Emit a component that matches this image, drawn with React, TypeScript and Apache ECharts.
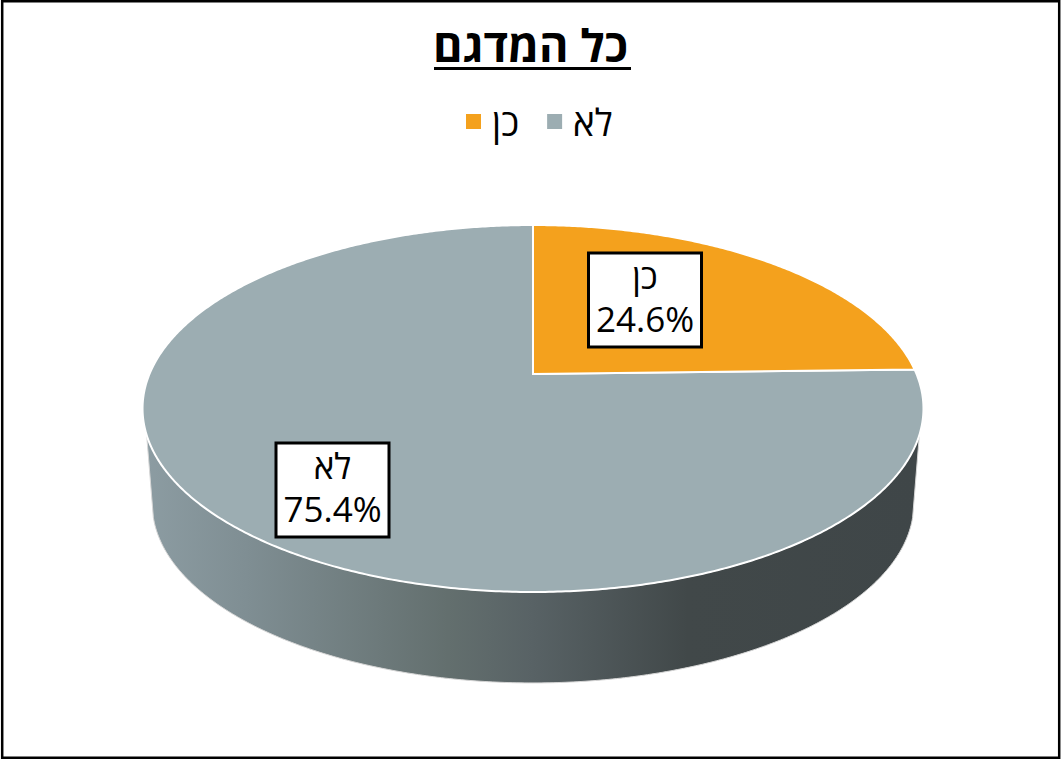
import React, { useEffect, useRef } from "react";
import * as echarts from "echarts";

const TITLE = "כל המדגם";
const CATEGORIES = ["כן", "לא"];
const VALUES = [24.6, 75.4];
const COLORS = ["#F4A11D", "#9CADB2"];
const FONT = '"Open Sans", sans-serif';

// Perspective projection of the pie's disc
const CX = 533;
const K = 0.188;
const RX = 383.5;
const RY = 177;
const TOP_Y = 374;
const BOTTOM_Y = 470.4;
const BOTTOM_SCALE = 0.975;
const VISIBLE_SIDE_FROM = 108.9;
const VISIBLE_SIDE_TO = 251.1;
const BOTTOM_SIDE_FROM = 105;
const BOTTOM_SIDE_TO = 255;
const LABEL_BOXES = [
  { x: 588.5, y: 253, width: 113, height: 94 },
  { x: 276, y: 443, width: 113, height: 94 },
];

function project(deg: number, y0: number, scale: number): number[] {
  const t = (deg * Math.PI) / 180;
  const w = 1 + K * Math.cos(t);
  return [CX + (scale * RX * Math.sin(t)) / w, y0 - (scale * RY * Math.cos(t)) / w];
}

function arc(from: number, to: number, y0: number, scale: number): number[][] {
  const pts: number[][] = [];
  const n = Math.max(2, Math.ceil(Math.abs(to - from) * 2));
  for (let i = 0; i <= n; i++) pts.push(project(from + ((to - from) * i) / n, y0, scale));
  return pts;
}

function makeRenderItem(index: number) {
  return (_params: any, api: any) => {
    const total = VALUES.reduce((a, b) => a + b, 0);
    const before = VALUES.slice(0, index).reduce((a, b) => a + b, 0);
    const value = api.value(0);
    const from = (before / total) * 360;
    const to = ((before + value) / total) * 360;
    const children: any[] = [];

    const sFrom = Math.max(from, VISIBLE_SIDE_FROM);
    const sTo = Math.min(to, VISIBLE_SIDE_TO);
    if (sTo > sFrom) {
      const upper = arc(sFrom, sTo, TOP_Y, 1);
      const lower = arc(BOTTOM_SIDE_TO, BOTTOM_SIDE_FROM, BOTTOM_Y, BOTTOM_SCALE);
      children.push({
        type: "polygon",
        shape: { points: [...upper, ...lower] },
        style: {
          fill: new echarts.graphic.LinearGradient(0, 0, 1, 0, [
            { offset: 0, color: "#8C9CA2" },
            { offset: 0.13, color: "#7F8E93" },
            { offset: 0.39, color: "#636F6E" },
            { offset: 0.5, color: "#586265" },
            { offset: 0.7, color: "#414849" },
            { offset: 1, color: "#3F4648" },
          ]),
          stroke: "#D6D6D6",
          lineWidth: 1,
        },
      });
    }

    children.push({
      type: "polygon",
      shape: { points: [[CX, TOP_Y], ...arc(from, to, TOP_Y, 1)] },
      style: { fill: COLORS[index], stroke: "#FFFFFF", lineWidth: 2 },
    });
    const box = LABEL_BOXES[index];
    children.push({
      type: "rect",
      shape: box,
      style: { fill: "#FFFFFF", stroke: "#000000", lineWidth: 3 },
    });
    children.push({
      type: "text",
      x: box.x + box.width / 2,
      y: box.y + box.height / 2 - 3,
      style: {
        text: `${CATEGORIES[index]}\n${value.toFixed(1)}%`,
        fill: "#000000",
        font: `35px ${FONT}`,
        lineHeight: 43,
        align: "center",
        verticalAlign: "middle",
      },
    });
    return { type: "group", children };
  };
}

export default function App() {
  const ref = useRef<HTMLDivElement>(null);
  useEffect(() => {
    const chart = echarts.init(ref.current!, undefined, { renderer: "svg" });
    chart.setOption({
      animation: false,
      backgroundColor: "#FFFFFF",
      title: {
        text: TITLE,
        left: "center",
        top: 17,
        textStyle: { fontFamily: FONT, fontWeight: "bold", fontSize: 45, color: "#000000" },
      },
      legend: {
        data: CATEGORIES,
        left: 466,
        top: 103,
        padding: 0,
        icon: "rect",
        itemWidth: 15,
        itemHeight: 15,
        itemGap: 28,
        selectedMode: false,
        textStyle: { fontFamily: FONT, fontSize: 37, color: "#000000", padding: [0, 0, 4, 6] },
      },
      graphic: [
        { type: "rect", shape: { x: 434, y: 67, width: 197, height: 3 }, style: { fill: "#000000" } },
        { type: "rect", shape: { x: 2.2, y: 1.2, width: 1057, height: 756.5 }, style: { fill: "none", stroke: "#000000", lineWidth: 2.5 }, silent: true },
      ],
      series: [1, 0].map((i) => ({
        type: "custom",
        name: CATEGORIES[i],
        coordinateSystem: "none",
        itemStyle: { color: COLORS[i] },
        data: [[VALUES[i]]],
        renderItem: makeRenderItem(i),
      })),
    });
    return () => chart.dispose();
  }, []);
  return <div ref={ref} style={{ position: "fixed", left: 0, top: 0, width: 1061, height: 759 }} />;
}
